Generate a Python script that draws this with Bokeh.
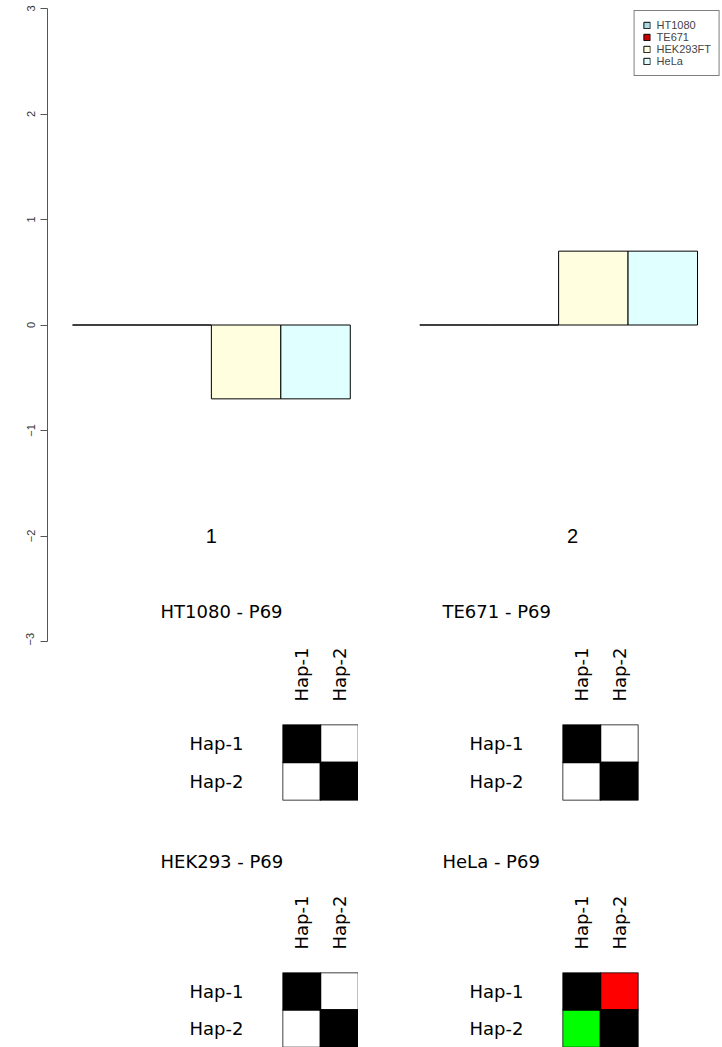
from bokeh.plotting import figure
from bokeh.layouts import column, row
from bokeh.models import FactorRange, Range1d
from bokeh.core.properties import value
from bokeh.embed import file_html
from bokeh.resources import INLINE

# ---------------- data ----------------
groups = ["1", "2"]
series = ["HT1080", "TE671", "HEK293FT", "HeLa"]
series_colors = ["#ADD8E6", "#CD0000", "#FFFFE0", "#E0FFFF"]
values_HT1080 = [0.0, 0.0]
values_TE671 = [0.0, 0.0]
values_HEK293FT = [-0.7, 0.7]
values_HeLa = [-0.7, 0.7]
y_ticks = [-3, -2, -1, 0, 1, 2, 3]

hap_labels = ["Hap-1", "Hap-2"]
heat_titles = ["HT1080 - P69", "TE671 - P69", "HEK293 - P69", "HeLa - P69"]
heat_HT1080 = [["black", "white"], ["white", "black"]]
heat_TE671 = [["black", "white"], ["white", "black"]]
heat_HEK293 = [["black", "white"], ["white", "black"]]
heat_HeLa = [["black", "#FF0000"], ["#00FF00", "black"]]

# ---------------- bar chart ----------------
series_values = [values_HT1080, values_TE671, values_HEK293FT, values_HeLa]
n_s = len(series)

bar = figure(width=722, height=645, output_backend="svg", toolbar_location=None,
             x_range=Range1d(0.64, 10.36), y_range=Range1d(-3, 3),
             min_border_left=47, min_border_right=0, min_border_top=8, min_border_bottom=4,
             x_axis_location=None)
bar.outline_line_color = None
bar.xgrid.visible = False
bar.ygrid.visible = False

for si, (name, vals, col) in enumerate(zip(series, series_values, series_colors)):
    xs = [1 + gi * (n_s + 1) + si + 0.5 for gi in range(len(groups))]
    bar.vbar(x=xs, top=vals, bottom=0, width=1, fill_color=col, line_color="black",
             line_width=1, legend_label=name)

label_x = [1 + gi * (n_s + 1) + n_s / 2 + 0.2 * gi for gi in range(len(groups))]
bar.text(x=label_x, y=[-2.0] * len(groups), text=groups, text_align="center",
         text_baseline="middle", text_font=value("Liberation Sans"),
         text_font_size=value("20px"), text_color="black")

ax = bar.yaxis[0]
ax.ticker = y_ticks
ax.major_label_orientation = "vertical"
ax.major_tick_out = 7
ax.major_tick_in = 0
ax.minor_tick_line_color = None
ax.axis_line_color = "#555555"
ax.major_tick_line_color = "#555555"
ax.major_label_text_font = "Liberation Sans"
ax.major_label_text_font_size = "11px"
ax.major_label_text_color = "#333333"
ax.major_label_standoff = 6

lg = bar.legend[0]
lg.location = "top_right"
lg.margin = 2
lg.padding = 8
lg.spacing = 0
lg.label_height = 12
lg.glyph_height = 8
lg.glyph_width = 8
lg.label_standoff = 6
lg.label_text_font = "Liberation Sans"
lg.label_text_font_size = "11px"
lg.label_text_line_height = 1.0
lg.border_line_color = "black"
lg.border_line_width = 1
lg.background_fill_alpha = 1.0


# ---------------- heatmaps ----------------
def heat(title, grid, width, mb_left, mb_right, height, mb_top, mb_bottom,
         title_offset, title_standoff):
    xs, ys, cs = [], [], []
    for ri, rlab in enumerate(hap_labels):
        for ci, clab in enumerate(hap_labels):
            xs.append(clab)
            ys.append(rlab)
            cs.append(grid[ri][ci])
    h = figure(width=width, height=height, output_backend="svg", toolbar_location=None,
               x_range=FactorRange(*hap_labels), y_range=FactorRange(*reversed(hap_labels)),
               x_axis_location="above", y_axis_location="left",
               min_border_left=mb_left, min_border_right=mb_right,
               min_border_top=mb_top, min_border_bottom=mb_bottom, title=title)
    h.rect(x=xs, y=ys, width=1, height=1, fill_color=cs, line_color="black", line_width=1.5)
    h.background_fill_color = None
    h.border_fill_color = None
    h.outline_line_color = None
    h.xgrid.visible = False
    h.ygrid.visible = False
    for a in (h.xaxis[0], h.yaxis[0]):
        a.axis_line_color = None
        a.major_tick_line_color = None
        a.minor_tick_line_color = None
        a.major_label_text_font = "DejaVu Sans"
        a.major_label_text_color = "black"
    h.xaxis[0].major_label_orientation = "vertical"
    h.xaxis[0].major_label_text_font_size = "18px"
    h.xaxis[0].major_label_standoff = 17
    h.yaxis[0].major_label_text_font_size = "18px"
    h.yaxis[0].major_label_standoff = 33
    h.title.text_font = "DejaVu Sans"
    h.title.text_font_size = "18px"
    h.title.text_font_style = "normal"
    h.title.text_color = "black"
    h.title.align = "left"
    h.title.offset = title_offset
    h.title.standoff = title_standoff
    return h


h1 = heat(heat_titles[0], heat_HT1080, 358, 282, 0, 253, 149, 28, -122, 46)
h2 = heat(heat_titles[1], heat_TE671, 364, 204, 84, 253, 149, 28, -120, 46)
h3 = heat(heat_titles[2], heat_HEK293, 358, 282, 0, 219, 144, 0, -122, 41)
h4 = heat(heat_titles[3], heat_HeLa, 364, 204, 84, 219, 144, 0, -120, 41)

heat_block = column(row(h1, h2), row(h3, h4), margin=(-70, 0, 0, 0))
layout = column(bar, heat_block)

with open("out.html", "w") as f:
    f.write(file_html(layout, INLINE))
